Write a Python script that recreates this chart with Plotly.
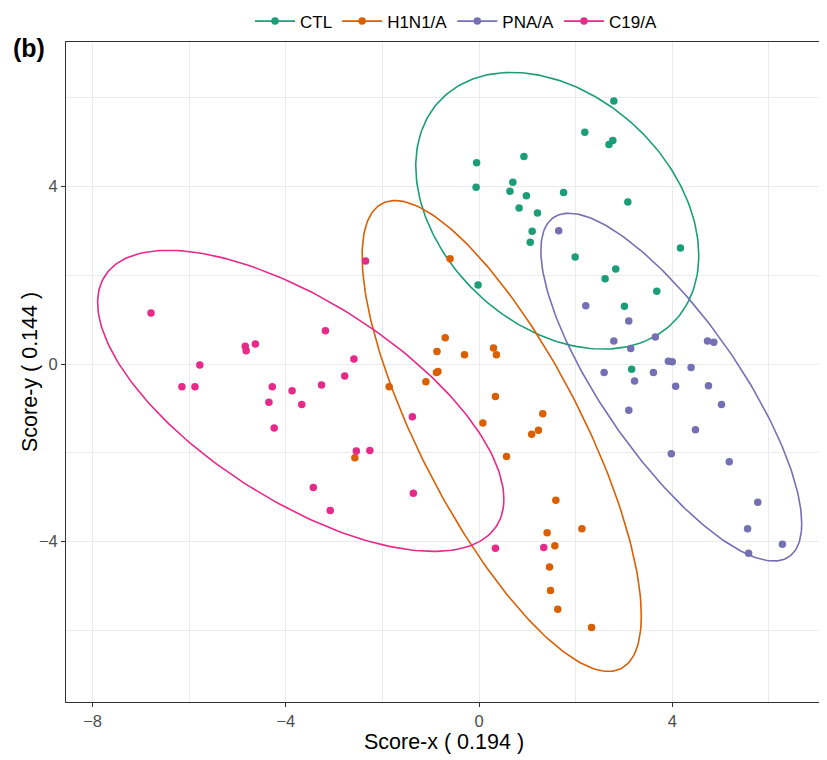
import numpy as np
import plotly.graph_objects as go

groups = ["CTL", "H1N1/A", "PNA/A", "C19/A"]
colors = ["#1B9E77", "#D95F02", "#7570B3", "#E7298A"]

ctl_x = [2.79, 2.19, 2.77, 2.69, 0.93, -0.05, 0.70, -0.06, 0.64, 0.98, 1.75, 0.83,
         1.21, 3.08, 1.10, 1.06, 4.17, 1.99, 2.83, 2.61, 3.68, -0.02, 3.01, 3.16]
ctl_y = [5.92, 5.22, 5.03, 4.94, 4.67, 4.53, 4.09, 3.98, 3.89, 3.79, 3.86, 3.51,
         3.40, 3.65, 2.99, 2.74, 2.61, 2.41, 2.14, 1.92, 1.64, 1.78, 1.30, -0.12]

h1n1_x = [-0.60, -0.70, -0.87, -0.30, 0.30, 0.36, -0.88, -0.85, -1.10, -1.86, 0.34, 0.08,
          1.32, 1.23, 1.09, 0.57, -2.57, 1.59, 2.13, 1.41, 1.57, 1.46, 1.48, 1.63, 2.33]
h1n1_y = [2.37, 0.59, 0.28, 0.21, 0.36, 0.21, -0.19, -0.17, -0.40, -0.51, -0.73, -1.33,
          -1.12, -1.49, -1.58, -2.08, -2.11, -3.07, -3.71, -3.80, -4.09, -4.57, -5.10, -5.52, -5.93]

pna_x = [1.65, 2.21, 3.10, 2.79, 3.14, 3.65, 4.73, 4.86, 3.92, 4.00, 4.39, 2.59, 3.22,
         3.61, 4.07, 4.75, 5.02, 3.10, 4.48, 3.98, 5.18, 5.77, 5.56, 6.28, 5.58]
pna_y = [3.00, 1.31, 0.97, 0.52, 0.35, 0.61, 0.52, 0.49, 0.06, 0.05, -0.08, -0.19, -0.38,
         -0.19, -0.50, -0.49, -0.91, -1.04, -1.48, -2.02, -2.20, -3.11, -3.71, -4.06, -4.26]

c19_x = [-6.79, -2.35, -3.18, -4.84, -4.82, -4.63, -2.59, -5.78, -2.78, -6.15, -5.88, -4.28,
         -3.87, -3.26, -4.35, -3.67, -4.24, -2.54, -2.26, -1.38, -3.43, -3.08, -1.36, 0.34, 1.34]
c19_y = [1.15, 2.32, 0.75, 0.40, 0.30, 0.45, 0.11, -0.02, -0.27, -0.51, -0.51, -0.51,
         -0.60, -0.47, -0.86, -0.91, -1.44, -1.96, -1.95, -1.19, -2.78, -3.30, -2.91, -4.15, -4.13]

# ellipse centres and shape matrices (sxx, syy, sxy)
ell_cx = [1.62, 0.47, 3.98, -3.69]
ell_cy = [3.45, -1.62, -0.52, -0.83]
ell_sxx = [8.58, 8.35, 7.29, 17.68]
ell_syy = [9.70, 28.09, 15.33, 11.49]
ell_sxy = [-2.95, -11.7, -8.3, -9.3]

xs = [ctl_x, h1n1_x, pna_x, c19_x]
ys = [ctl_y, h1n1_y, pna_y, c19_y]

fig = go.Figure()
t = np.linspace(0, 2 * np.pi, 241)
for i, g in enumerate(groups):
    S = np.array([[ell_sxx[i], ell_sxy[i]], [ell_sxy[i], ell_syy[i]]])
    L = np.linalg.cholesky(S)
    pts = L @ np.vstack([np.cos(t), np.sin(t)])
    fig.add_trace(go.Scatter(x=pts[0] + ell_cx[i], y=pts[1] + ell_cy[i], mode="lines",
                             line=dict(color=colors[i], width=1.6), showlegend=False,
                             hoverinfo="skip"))
for i, g in enumerate(groups):
    fig.add_trace(go.Scatter(x=xs[i], y=ys[i], mode="markers", name=g,
                             marker=dict(color=colors[i], size=7.5), showlegend=False))
for i, g in enumerate(groups):
    fig.add_trace(go.Scatter(x=[None], y=[None], mode="lines+markers", name=g,
                             line=dict(color=colors[i], width=1.6),
                             marker=dict(color=colors[i], size=7.5)))

axis_common = dict(
    showline=True, linecolor="#333333", linewidth=1, mirror=True,
    ticks="outside", ticklen=4, tickcolor="#333333", tickwidth=1,
    showgrid=True, gridcolor="#EBEBEB", gridwidth=1.1, zeroline=False,
    tickfont=dict(size=16.5, color="#4D4D4D"), automargin=False,
)

# page body has an 8px margin; figure is sized so the plot lands on the reference pixels
fig.update_layout(
    width=819, height=752,
    margin=dict(l=58, r=5, t=34, b=58, autoexpand=False),
    paper_bgcolor="white", plot_bgcolor="white",
    font=dict(family="Liberation Sans, Arial, sans-serif", color="black"),
    xaxis=dict(range=[-8.55, 7.10], tick0=0, dtick=4,
               minor=dict(dtick=2, showgrid=True, gridcolor="#EBEBEB", gridwidth=0.6),
               title=dict(text="Score-x ( 0.194 )", font=dict(size=21.5), standoff=5),
               **axis_common),
    yaxis=dict(range=[-7.61, 7.25], tick0=0, dtick=4,
               minor=dict(dtick=2, showgrid=True, gridcolor="#EBEBEB", gridwidth=0.6),
               **axis_common),
    legend=dict(orientation="h", xref="container", yref="container",
                x=(250 - 8) / 819, xanchor="left", y=0.982, yanchor="middle",
                font=dict(size=17), itemwidth=40, tracegroupgap=0,
                bgcolor="rgba(0,0,0,0)"),
    showlegend=True,
)
fig.add_annotation(text="Score-y ( 0.144 )", xref="paper", yref="paper",
                   x=(22 - 58) / 756, y=0.5, xanchor="center", yanchor="middle",
                   textangle=-90, showarrow=False, font=dict(size=21.5, color="black"))
fig.add_annotation(text="<b>(b)</b>", xref="paper", yref="paper",
                   x=(3 - 58) / 756, y=0.991, xanchor="left", yanchor="middle",
                   showarrow=False, font=dict(size=25, color="black"))

fig.write_html("out.html")
